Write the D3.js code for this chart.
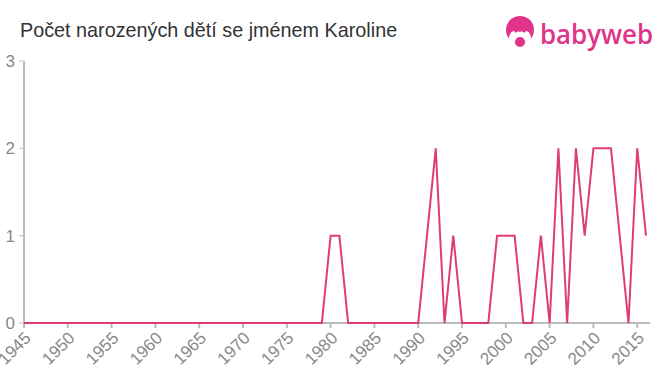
<!DOCTYPE html>
<html>
<head>
<meta charset="utf-8">
<script src="https://cdn.jsdelivr.net/npm/d3@7"></script>
<style>
  body { margin: 0; background: #fff; }
  svg { display: block; font-family: "Liberation Sans", Arial, sans-serif; }
</style>
</head>
<body>
<svg id="chart"></svg>
<script>
const titleText = 'Počet narozených dětí se jménem Karoline';

// one value per year, 1945-2016
const years = d3.range(1945, 2017);
const counts = [
    0, 0, 0, 0, 0, 0, 0, 0, 0, 0,   // 1945-1954
    0, 0, 0, 0, 0, 0, 0, 0, 0, 0,   // 1955-1964
    0, 0, 0, 0, 0, 0, 0, 0, 0, 0,   // 1965-1974
    0, 0, 0, 0, 0, 1, 1, 0, 0, 0,   // 1975-1984
    0, 0, 0, 0, 0, 0, 1, 2, 0, 1,   // 1985-1994
    0, 0, 0, 0, 1, 1, 1, 0, 0, 1,   // 1995-2004
    0, 2, 0, 2, 1, 2, 2, 2, 1, 0,   // 2005-2014
    2, 1                            // 2015-2016
];
const tickYears = d3.range(1945, 2016, 5);
const yTicks = [0, 1, 2, 3];

var width = 660,
    height = 375,
    lineColor = '#de3e6d',
    axisColor = '#bbbbbb',
    labelColor = '#888888',
    brandColor = '#e0338a';

var data = years.map((yr, i) => ({ year: yr, value: counts[i] }));

var svg = d3.select('#chart')
    .attr('width', width)
    .attr('height', height);

const x = d3.scaleLinear()
    .domain([1945, 2016])
    .range([24, 646]);

const y = d3.scaleLinear()
    .domain([0, 3])
    .range([323, 61]);

// Title
svg.append('text')
    .attr('x', 20)
    .attr('y', 37)
    .attr('font-size', '19.8px')
    .attr('fill', '#333')
    .text(titleText);

// Logo
var logo = svg.append('g');
logo.append('circle')
    .attr('cx', 520).attr('cy', 30).attr('r', 14)
    .attr('fill', brandColor);
logo.append('path')
    .attr('d', 'M509,38 Q510,31 514,31 Q516,34 518,31 Q520,33 522,31 Q524,34 526,31 Q530,31 531,38 L531,42 Q526,47 520,47 Q514,47 509,42 Z')
    .attr('fill', '#fff');
logo.append('circle')
    .attr('cx', 520).attr('cy', 42).attr('r', 5)
    .attr('fill', brandColor);
logo.append('text')
    .attr('x', 540)
    .attr('y', 44)
    .attr('font-family', '"Open Sans", sans-serif')
    .attr('font-weight', 600)
    .attr('font-size', '27px')
    .attr('textLength', 113)
    .attr('lengthAdjust', 'spacingAndGlyphs')
    .attr('fill', brandColor)
    .text('babyweb');

// Y axis
svg.append('line')
    .attr('x1', x(1945)).attr('x2', x(1945))
    .attr('y1', y(3)).attr('y2', y(0))
    .attr('stroke', axisColor).attr('stroke-width', 2);

yTicks.forEach(function (t) {
    svg.append('line')
        .attr('x1', x(1945) - 5).attr('x2', x(1945))
        .attr('y1', y(t)).attr('y2', y(t))
        .attr('stroke', axisColor).attr('stroke-width', 1);
    svg.append('text')
        .attr('x', 15)
        .attr('y', y(t))
        .attr('dy', '0.35em')
        .attr('text-anchor', 'end')
        .attr('font-size', '17px')
        .attr('fill', labelColor)
        .text(t);
});

// X axis
svg.append('line')
    .attr('x1', x(1945)).attr('x2', 650)
    .attr('y1', y(0)).attr('y2', y(0))
    .attr('stroke', axisColor).attr('stroke-width', 2);

tickYears.forEach(function (t) {
    svg.append('line')
        .attr('x1', x(t)).attr('x2', x(t))
        .attr('y1', y(0)).attr('y2', y(0) + 5)
        .attr('stroke', axisColor).attr('stroke-width', 2);
    svg.append('text')
        .attr('text-anchor', 'end')
        .attr('font-size', '17px')
        .attr('fill', labelColor)
        .attr('transform', 'translate(' + (x(t) + 8) + ',' + (y(0) + 16) + ') rotate(-45)')
        .text(t);
});

// Line
const line = d3.line()
    .x(d => x(d.year))
    .y(d => y(d.value));

svg.append('path')
    .datum(data)
    .attr('fill', 'none')
    .attr('stroke', lineColor)
    .attr('stroke-width', 2)
    .attr('d', line);
</script>
</body>
</html>
